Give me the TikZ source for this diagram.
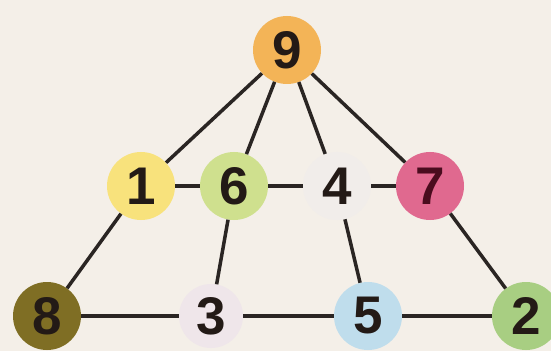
\documentclass[tikz,border=0pt]{standalone}
\usepackage{fontspec}
\setmainfont{Liberation Sans}
\definecolor{bgc}{HTML}{F4EFE8}
\definecolor{linec}{HTML}{2A2523}
\definecolor{txtc}{HTML}{231A16}
\definecolor{cnine}{HTML}{F3B457}
\definecolor{cone}{HTML}{F8E27C}
\definecolor{csix}{HTML}{CFE08E}
\definecolor{cfour}{HTML}{F1EDEA}
\definecolor{cseven}{HTML}{E0698F}
\definecolor{ceight}{HTML}{7F6E24}
\definecolor{cthree}{HTML}{EFE6EA}
\definecolor{cfive}{HTML}{BFDDEC}
\definecolor{ctwo}{HTML}{A8CE82}
\definecolor{txtseven}{HTML}{4A0C1E}
\begin{document}
\begin{tikzpicture}[x=1pt,y=1pt,
  num/.style={circle,inner sep=0pt,minimum size=68pt,text=txtc,
    font=\fontsize{53}{53}\selectfont\bfseries},
  edge/.style={draw=linec,line width=3.5pt}]
\useasboundingbox (0,0) rectangle (551,351);
\fill[bgc] (0,0) rectangle (551,351);
\clip (0,0) rectangle (551,351);
\node[num,fill=cnine] (n9) at (287,301) {9};
\node[num,fill=cone] (n1) at (141,165) {1};
\node[num,fill=csix] (n6) at (234,165) {6};
\node[num,fill=cfour] (n4) at (337,165) {4};
\node[num,fill=cseven,text=txtseven] (n7) at (430,165) {7};
\node[num,fill=ceight] (n8) at (47,35) {8};
\node[num,fill=cthree,minimum size=64pt] (n3) at (211,35) {3};
\node[num,fill=cfive] (n5) at (368,35) {5};
\node[num,fill=ctwo] (n2) at (526,35) {2};
\path[edge] (n9) -- (n1);
\path[edge] (n9) -- (n6);
\path[edge] (n9) -- (n4);
\path[edge] (n9) -- (n7);
\path[edge] (n1) -- (n6);
\path[edge] (n6) -- (n4);
\path[edge] (n4) -- (n7);
\path[edge] (n1) -- (n8);
\path[edge] (n6) -- (n3);
\path[edge] (n4) -- (n5);
\path[edge] (n7) -- (n2);
\path[edge] (n8) -- (n3);
\path[edge] (n3) -- (n5);
\path[edge] (n5) -- (n2);
\end{tikzpicture}
\end{document}
